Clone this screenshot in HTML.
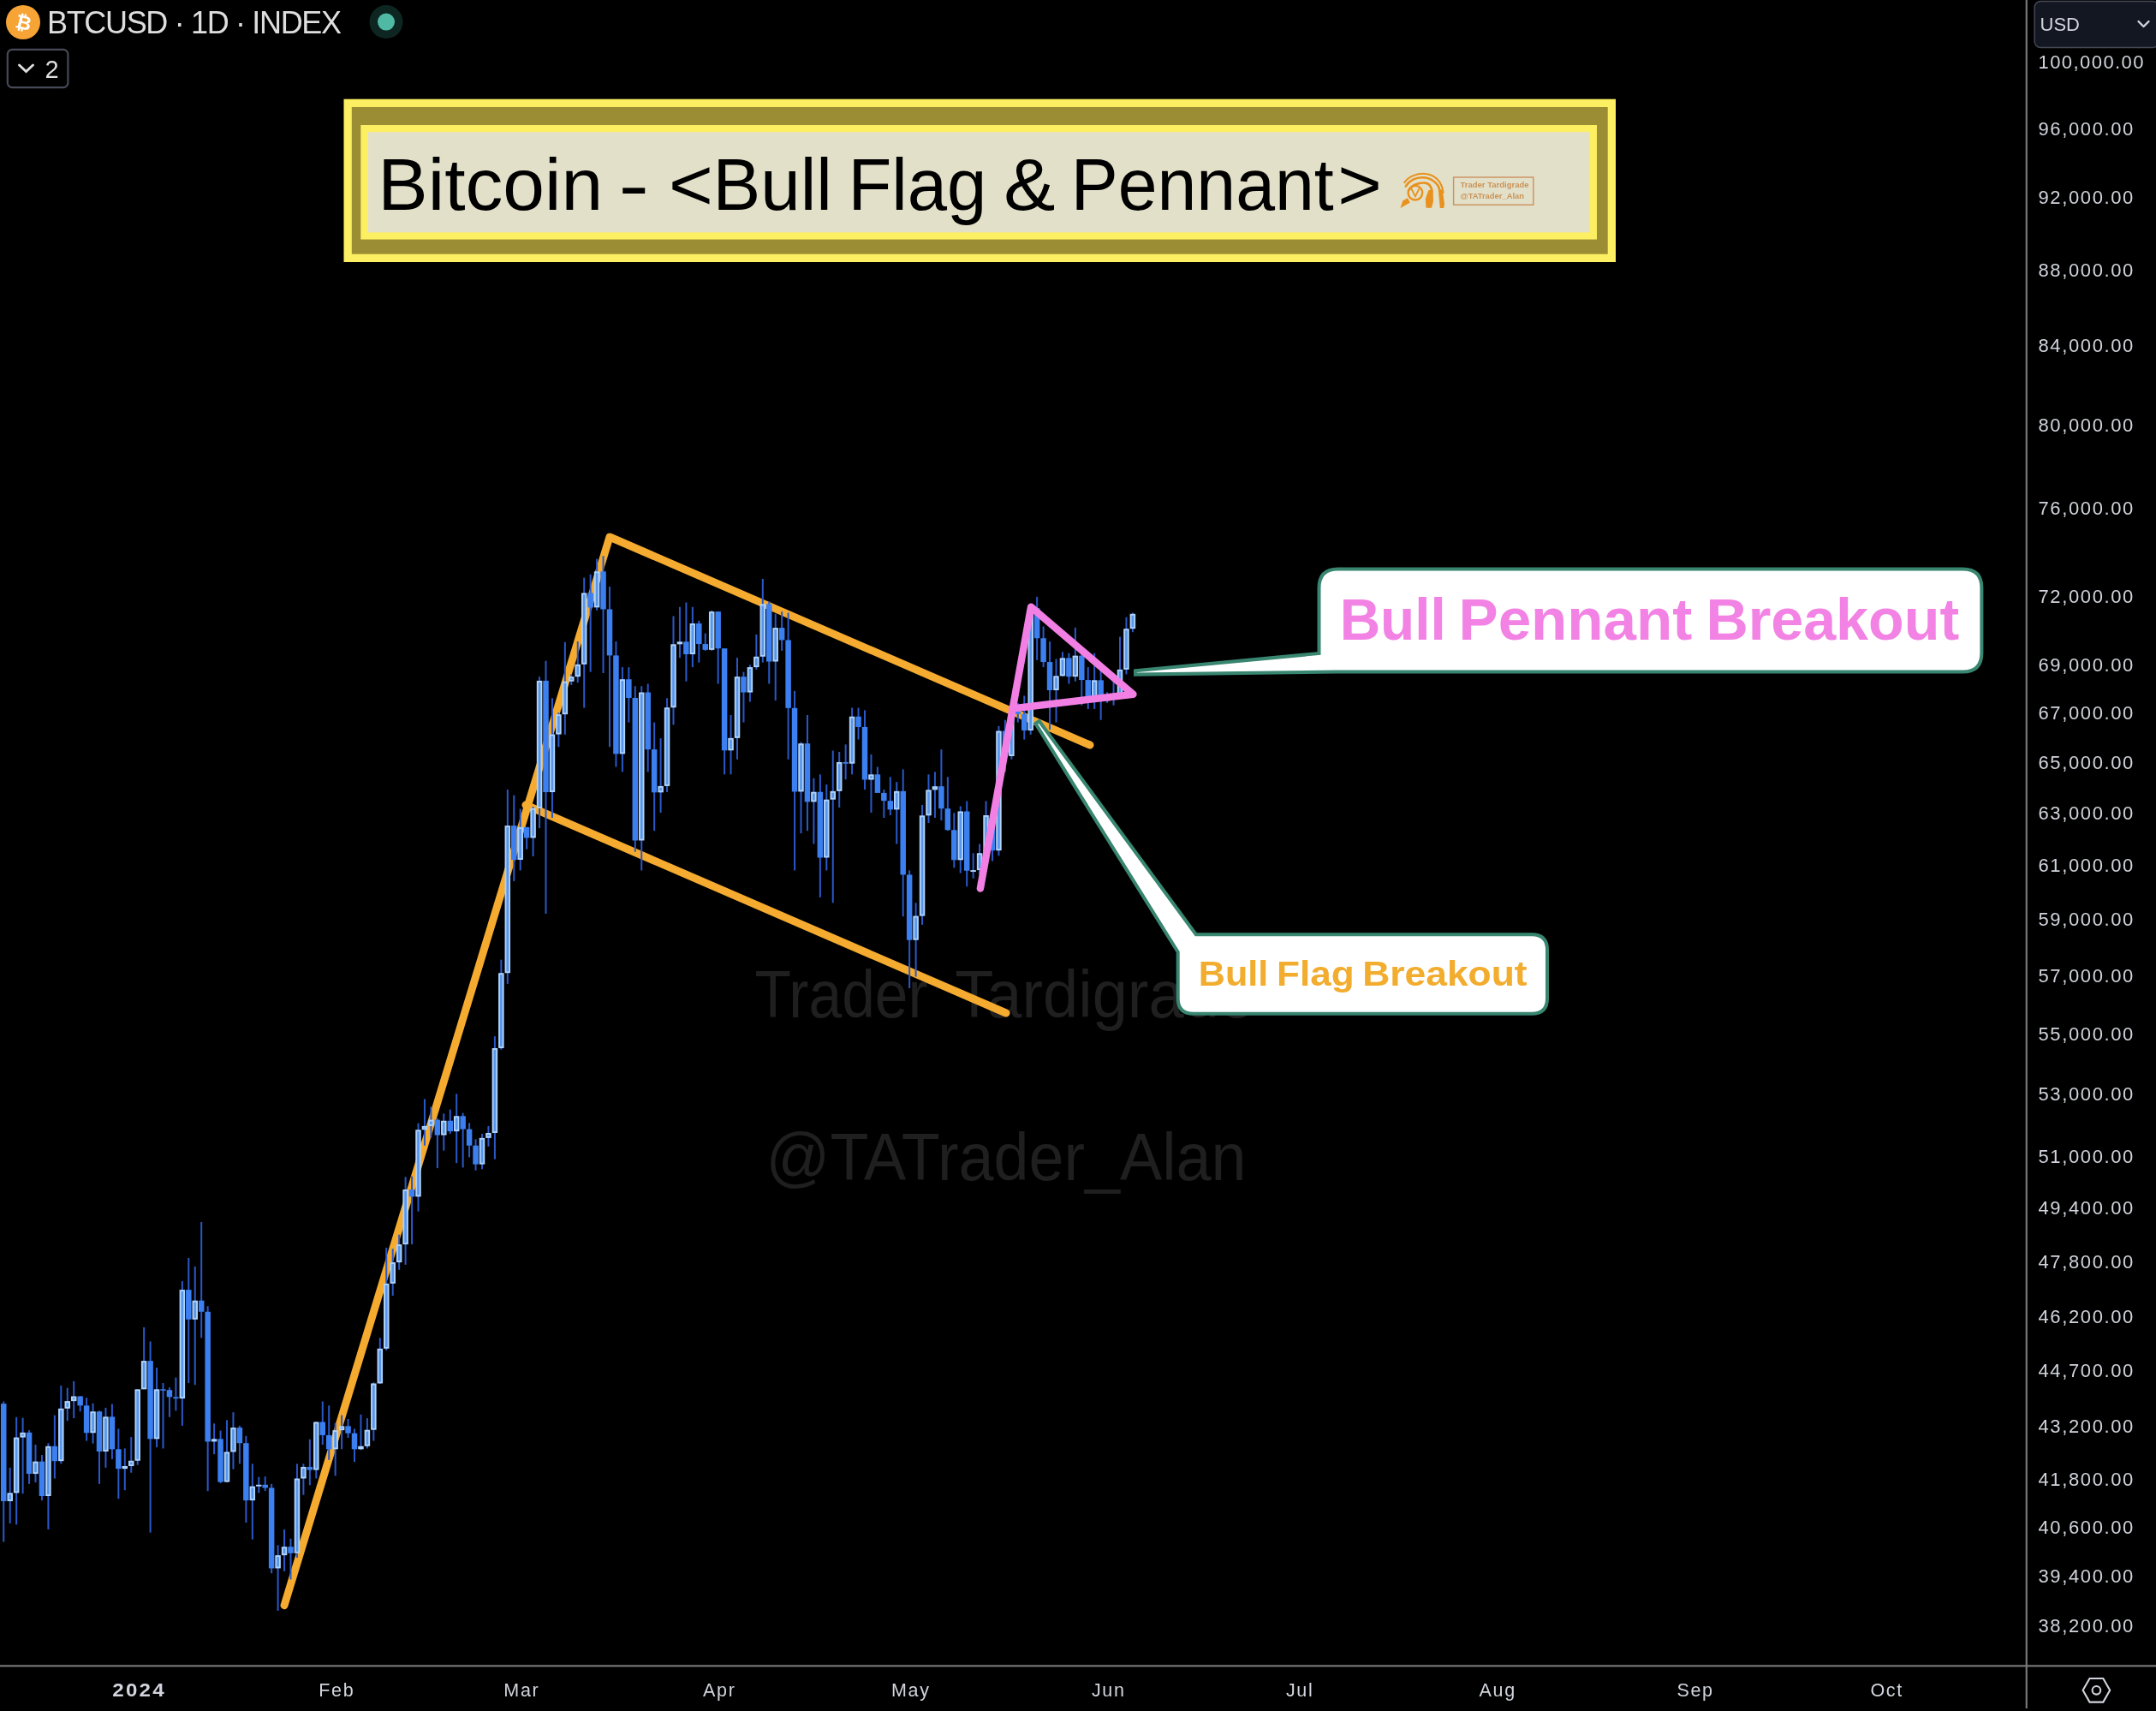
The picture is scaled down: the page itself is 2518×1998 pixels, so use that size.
<!DOCTYPE html>
<html><head><meta charset="utf-8"><title>BTCUSD Bull Flag &amp; Pennant</title>
<style>
html,body{margin:0;padding:0;background:#000;width:2518px;height:1998px;overflow:hidden}
svg{display:block;position:absolute;left:0;top:0;will-change:transform}
text{font-family:"Liberation Sans",Arial,sans-serif}
.wk rect{fill:#2a58c8}
.bd rect{fill:#3b7ff0}
.bd rect.u{fill:#5896ec;stroke:#b0d3fb;stroke-width:1.9}
.pl text{font-size:22px;fill:#d1d4dc}
.tl text{font-size:21.5px;fill:#d1d4dc;text-anchor:middle}
.tl text.b{font-weight:bold}
</style></head>
<body>
<svg width="2518" height="1998" viewBox="0 0 2518 1998">
<rect width="2518" height="1998" fill="#000"/>
<!-- watermark -->
<g fill="#1f1f1f" font-size="77.5"><text x="881.51" y="1188.2" textLength="202.04" lengthAdjust="spacingAndGlyphs">Trader</text><text x="1115.29" y="1188.2" textLength="349.72" lengthAdjust="spacingAndGlyphs">Tardigrade</text><text x="894.59" y="1378.4" textLength="560.98" lengthAdjust="spacingAndGlyphs">@TATrader_Alan</text></g>
<!-- drawings: orange flag -->
<g fill="none" stroke="#f4ab2f" stroke-width="9" stroke-linecap="round" stroke-linejoin="round">
<polyline points="332,1874.7 712,627 1273,870"/>
<line x1="614" y1="940" x2="1175" y2="1183"/>
</g>
<!-- candles -->
<g class="wk">
<rect x="3.25" y="1636.55" width="2" height="163.96"/>
<rect x="10.70" y="1713.83" width="2" height="65.11"/>
<rect x="18.15" y="1654.82" width="2" height="125.52"/>
<rect x="25.60" y="1655.69" width="2" height="88.58"/>
<rect x="33.05" y="1670.17" width="2" height="62.69"/>
<rect x="40.50" y="1686.98" width="2" height="44.06"/>
<rect x="47.95" y="1699.02" width="2" height="53.06"/>
<rect x="55.40" y="1685.20" width="2" height="100.74"/>
<rect x="62.85" y="1652.63" width="2" height="73.86"/>
<rect x="70.30" y="1618.04" width="2" height="91.29"/>
<rect x="77.75" y="1620.61" width="2" height="38.58"/>
<rect x="85.20" y="1612.90" width="2" height="43.23"/>
<rect x="92.65" y="1630.07" width="2" height="18.20"/>
<rect x="100.10" y="1632.23" width="2" height="50.31"/>
<rect x="107.55" y="1638.72" width="2" height="46.93"/>
<rect x="115.00" y="1647.40" width="2" height="85.46"/>
<rect x="122.45" y="1643.92" width="2" height="69.91"/>
<rect x="129.90" y="1639.59" width="2" height="64.36"/>
<rect x="137.35" y="1668.41" width="2" height="81.83"/>
<rect x="144.80" y="1691.43" width="2" height="48.73"/>
<rect x="152.25" y="1678.11" width="2" height="41.59"/>
<rect x="159.70" y="1622.33" width="2" height="88.35"/>
<rect x="167.15" y="1549.86" width="2" height="72.47"/>
<rect x="174.60" y="1566.46" width="2" height="223.23"/>
<rect x="182.05" y="1597.16" width="2" height="92.94"/>
<rect x="189.50" y="1615.04" width="2" height="76.39"/>
<rect x="196.95" y="1620.18" width="2" height="34.63"/>
<rect x="204.40" y="1608.63" width="2" height="38.77"/>
<rect x="211.85" y="1496.06" width="2" height="168.83"/>
<rect x="219.30" y="1468.93" width="2" height="146.11"/>
<rect x="226.75" y="1478.86" width="2" height="138.32"/>
<rect x="234.20" y="1427.01" width="2" height="135.29"/>
<rect x="241.65" y="1525.21" width="2" height="215.86"/>
<rect x="249.10" y="1662.26" width="2" height="35.87"/>
<rect x="256.55" y="1670.61" width="2" height="61.34"/>
<rect x="264.00" y="1658.31" width="2" height="72.72"/>
<rect x="271.45" y="1649.14" width="2" height="66.49"/>
<rect x="278.90" y="1664.89" width="2" height="44.44"/>
<rect x="286.35" y="1676.79" width="2" height="101.22"/>
<rect x="293.80" y="1709.33" width="2" height="88.36"/>
<rect x="301.25" y="1724.68" width="2" height="18.68"/>
<rect x="308.70" y="1724.23" width="2" height="16.84"/>
<rect x="316.15" y="1732.86" width="2" height="104.34"/>
<rect x="323.60" y="1804.30" width="2" height="76.69"/>
<rect x="331.05" y="1785.95" width="2" height="48.85"/>
<rect x="338.50" y="1796.75" width="2" height="47.68"/>
<rect x="345.95" y="1709.33" width="2" height="109.68"/>
<rect x="353.40" y="1709.33" width="2" height="36.32"/>
<rect x="360.85" y="1680.77" width="2" height="53.45"/>
<rect x="368.30" y="1660.07" width="2" height="66.43"/>
<rect x="375.75" y="1636.55" width="2" height="50.43"/>
<rect x="383.20" y="1641.32" width="2" height="63.52"/>
<rect x="390.65" y="1661.82" width="2" height="61.50"/>
<rect x="398.10" y="1652.63" width="2" height="39.69"/>
<rect x="405.55" y="1657.00" width="2" height="22.00"/>
<rect x="413.00" y="1668.41" width="2" height="38.68"/>
<rect x="420.45" y="1651.76" width="2" height="41.45"/>
<rect x="427.90" y="1656.13" width="2" height="35.30"/>
<rect x="435.35" y="1614.18" width="2" height="68.36"/>
<rect x="442.80" y="1562.30" width="2" height="53.60"/>
<rect x="450.25" y="1457.08" width="2" height="119.84"/>
<rect x="457.70" y="1458.26" width="2" height="54.75"/>
<rect x="465.15" y="1441.79" width="2" height="41.05"/>
<rect x="472.60" y="1374.27" width="2" height="102.59"/>
<rect x="480.05" y="1373.52" width="2" height="79.63"/>
<rect x="487.50" y="1311.63" width="2" height="103.02"/>
<rect x="494.95" y="1283.40" width="2" height="54.30"/>
<rect x="502.40" y="1292.40" width="2" height="36.07"/>
<rect x="509.85" y="1305.80" width="2" height="58.32"/>
<rect x="517.30" y="1300.36" width="2" height="43.26"/>
<rect x="524.75" y="1295.65" width="2" height="28.41"/>
<rect x="532.20" y="1277.30" width="2" height="80.83"/>
<rect x="539.65" y="1299.64" width="2" height="63.74"/>
<rect x="547.10" y="1311.27" width="2" height="40.16"/>
<rect x="554.55" y="1330.32" width="2" height="36.43"/>
<rect x="562.00" y="1324.07" width="2" height="41.18"/>
<rect x="569.45" y="1314.91" width="2" height="23.89"/>
<rect x="576.90" y="1210.11" width="2" height="143.55"/>
<rect x="584.35" y="1120.66" width="2" height="105.07"/>
<rect x="591.80" y="922.06" width="2" height="226.84"/>
<rect x="599.25" y="928.60" width="2" height="100.34"/>
<rect x="606.70" y="944.46" width="2" height="71.96"/>
<rect x="614.15" y="965.61" width="2" height="26.00"/>
<rect x="621.60" y="942.06" width="2" height="57.89"/>
<rect x="629.05" y="790.16" width="2" height="176.98"/>
<rect x="636.50" y="771.69" width="2" height="295.34"/>
<rect x="643.95" y="815.25" width="2" height="139.76"/>
<rect x="651.40" y="832.17" width="2" height="40.07"/>
<rect x="658.85" y="749.87" width="2" height="107.96"/>
<rect x="666.30" y="787.39" width="2" height="12.49"/>
<rect x="673.75" y="749.05" width="2" height="48.04"/>
<rect x="681.20" y="674.63" width="2" height="151.88"/>
<rect x="688.65" y="670.73" width="2" height="113.90"/>
<rect x="696.10" y="652.61" width="2" height="60.20"/>
<rect x="703.55" y="649.26" width="2" height="136.75"/>
<rect x="711.00" y="685.09" width="2" height="187.15"/>
<rect x="718.45" y="749.05" width="2" height="146.47"/>
<rect x="725.90" y="779.11" width="2" height="122.28"/>
<rect x="733.35" y="779.11" width="2" height="64.42"/>
<rect x="740.80" y="801.27" width="2" height="193.43"/>
<rect x="748.25" y="801.27" width="2" height="215.15"/>
<rect x="755.70" y="798.49" width="2" height="102.90"/>
<rect x="763.15" y="843.53" width="2" height="126.65"/>
<rect x="770.60" y="862.14" width="2" height="86.83"/>
<rect x="778.05" y="815.25" width="2" height="109.78"/>
<rect x="785.50" y="719.47" width="2" height="126.92"/>
<rect x="792.95" y="708.82" width="2" height="59.30"/>
<rect x="800.40" y="703.52" width="2" height="92.18"/>
<rect x="807.85" y="708.82" width="2" height="70.29"/>
<rect x="815.30" y="724.81" width="2" height="48.80"/>
<rect x="822.75" y="739.59" width="2" height="20.34"/>
<rect x="830.20" y="712.81" width="2" height="47.12"/>
<rect x="837.65" y="714.14" width="2" height="84.35"/>
<rect x="845.10" y="757.20" width="2" height="147.12"/>
<rect x="852.55" y="835.00" width="2" height="69.32"/>
<rect x="860.00" y="768.12" width="2" height="118.63"/>
<rect x="867.45" y="784.62" width="2" height="58.91"/>
<rect x="874.90" y="776.36" width="2" height="43.11"/>
<rect x="882.35" y="740.94" width="2" height="40.93"/>
<rect x="889.80" y="675.94" width="2" height="97.67"/>
<rect x="897.25" y="702.20" width="2" height="96.29"/>
<rect x="904.70" y="716.80" width="2" height="101.26"/>
<rect x="912.15" y="714.14" width="2" height="45.79"/>
<rect x="919.60" y="715.47" width="2" height="171.29"/>
<rect x="927.05" y="806.85" width="2" height="209.57"/>
<rect x="934.50" y="866.46" width="2" height="106.76"/>
<rect x="941.95" y="835.00" width="2" height="135.17"/>
<rect x="949.40" y="908.74" width="2" height="76.72"/>
<rect x="956.85" y="904.33" width="2" height="143.56"/>
<rect x="964.30" y="916.13" width="2" height="100.29"/>
<rect x="971.75" y="876.58" width="2" height="177.66"/>
<rect x="979.20" y="878.03" width="2" height="64.93"/>
<rect x="986.65" y="869.35" width="2" height="40.87"/>
<rect x="994.10" y="826.51" width="2" height="77.81"/>
<rect x="1001.55" y="826.51" width="2" height="37.07"/>
<rect x="1009.00" y="829.34" width="2" height="92.72"/>
<rect x="1016.45" y="880.94" width="2" height="68.04"/>
<rect x="1023.90" y="895.52" width="2" height="29.51"/>
<rect x="1031.35" y="922.06" width="2" height="32.95"/>
<rect x="1038.80" y="907.27" width="2" height="44.72"/>
<rect x="1046.25" y="913.17" width="2" height="72.29"/>
<rect x="1053.70" y="898.45" width="2" height="171.78"/>
<rect x="1061.15" y="1016.42" width="2" height="137.50"/>
<rect x="1068.60" y="1054.25" width="2" height="86.30"/>
<rect x="1076.05" y="939.96" width="2" height="139.93"/>
<rect x="1083.50" y="904.33" width="2" height="56.74"/>
<rect x="1090.95" y="901.39" width="2" height="53.62"/>
<rect x="1098.40" y="875.13" width="2" height="82.90"/>
<rect x="1105.85" y="907.27" width="2" height="62.91"/>
<rect x="1113.30" y="949.28" width="2" height="64.03"/>
<rect x="1120.75" y="941.46" width="2" height="78.08"/>
<rect x="1128.20" y="935.47" width="2" height="99.77"/>
<rect x="1135.65" y="996.24" width="2" height="29.56"/>
<rect x="1143.10" y="985.47" width="2" height="35.64"/>
<rect x="1150.55" y="935.47" width="2" height="82.51"/>
<rect x="1158.00" y="945.97" width="2" height="59.56"/>
<rect x="1165.45" y="847.81" width="2" height="151.52"/>
<rect x="1172.90" y="840.69" width="2" height="60.70"/>
<rect x="1180.35" y="820.88" width="2" height="65.88"/>
<rect x="1187.80" y="820.88" width="2" height="22.66"/>
<rect x="1195.25" y="812.45" width="2" height="51.13"/>
<rect x="1202.70" y="708.82" width="2" height="149.01"/>
<rect x="1210.15" y="696.92" width="2" height="73.95"/>
<rect x="1217.60" y="731.52" width="2" height="47.59"/>
<rect x="1225.05" y="749.05" width="2" height="103.04"/>
<rect x="1232.50" y="769.49" width="2" height="74.04"/>
<rect x="1239.95" y="761.29" width="2" height="28.87"/>
<rect x="1247.40" y="762.66" width="2" height="35.83"/>
<rect x="1254.85" y="732.86" width="2" height="62.85"/>
<rect x="1262.30" y="761.29" width="2" height="62.40"/>
<rect x="1269.75" y="779.11" width="2" height="48.82"/>
<rect x="1277.20" y="762.66" width="2" height="65.27"/>
<rect x="1284.65" y="776.36" width="2" height="64.33"/>
<rect x="1292.10" y="808.25" width="2" height="12.63"/>
<rect x="1299.55" y="792.93" width="2" height="30.76"/>
<rect x="1307.00" y="743.64" width="2" height="70.21"/>
<rect x="1314.45" y="720.80" width="2" height="66.59"/>
<rect x="1321.90" y="715.47" width="2" height="22.77"/>
</g>
<g class="bd">
<rect x="1.00" y="1639.15" width="6.50" height="113.84"/>
<rect class="u" x="9.40" y="1744.31" width="4.60" height="7.74"/>
<rect class="u" x="16.85" y="1679.51" width="4.60" height="62.90"/>
<rect class="u" x="24.30" y="1673.76" width="4.60" height="3.84"/>
<rect x="30.80" y="1672.81" width="6.50" height="48.24"/>
<rect class="u" x="39.20" y="1707.59" width="4.60" height="12.52"/>
<rect x="45.70" y="1706.64" width="6.50" height="40.39"/>
<rect class="u" x="54.10" y="1689.71" width="4.60" height="56.36"/>
<rect x="60.60" y="1688.76" width="6.50" height="17.43"/>
<rect class="u" x="69.00" y="1645.74" width="4.60" height="59.49"/>
<rect class="u" x="76.45" y="1637.07" width="4.60" height="6.77"/>
<rect class="u" x="83.90" y="1631.46" width="4.60" height="3.72"/>
<rect x="90.40" y="1630.51" width="6.50" height="10.81"/>
<rect x="97.85" y="1641.32" width="6.50" height="31.94"/>
<rect class="u" x="106.25" y="1649.22" width="4.60" height="23.08"/>
<rect x="112.75" y="1648.27" width="6.50" height="46.72"/>
<rect class="u" x="121.15" y="1655.33" width="4.60" height="38.72"/>
<rect x="127.65" y="1654.38" width="6.50" height="37.94"/>
<rect x="135.10" y="1692.32" width="6.50" height="22.86"/>
<rect class="u" x="143.50" y="1712.98" width="4.60" height="1.25"/>
<rect class="u" x="150.95" y="1706.69" width="4.60" height="4.39"/>
<rect class="u" x="158.40" y="1623.28" width="4.60" height="81.51"/>
<rect class="u" x="165.85" y="1590.07" width="4.60" height="31.31"/>
<rect x="172.35" y="1589.12" width="6.50" height="91.21"/>
<rect class="u" x="180.75" y="1623.28" width="4.60" height="56.10"/>
<rect x="187.25" y="1622.33" width="6.50" height="1.50"/>
<rect x="194.70" y="1623.19" width="6.50" height="8.18"/>
<rect x="202.15" y="1631.37" width="6.50" height="1.73"/>
<rect class="u" x="210.55" y="1507.08" width="4.60" height="125.06"/>
<rect x="217.05" y="1506.13" width="6.50" height="34.65"/>
<rect class="u" x="225.45" y="1519.65" width="4.60" height="20.19"/>
<rect x="231.95" y="1518.70" width="6.50" height="13.06"/>
<rect x="239.40" y="1531.75" width="6.50" height="151.68"/>
<rect class="u" x="247.80" y="1681.28" width="4.60" height="1.20"/>
<rect x="254.30" y="1680.33" width="6.50" height="50.26"/>
<rect class="u" x="262.70" y="1696.39" width="4.60" height="33.24"/>
<rect class="u" x="270.15" y="1668.04" width="4.60" height="26.45"/>
<rect x="276.65" y="1667.09" width="6.50" height="18.12"/>
<rect x="284.10" y="1685.20" width="6.50" height="66.87"/>
<rect class="u" x="292.50" y="1736.54" width="4.60" height="14.58"/>
<rect class="u" x="299.95" y="1734.72" width="4.60" height="0.01"/>
<rect x="306.45" y="1733.77" width="6.50" height="3.65"/>
<rect x="313.90" y="1737.42" width="6.50" height="94.02"/>
<rect class="u" x="322.30" y="1817.10" width="4.60" height="13.38"/>
<rect class="u" x="329.75" y="1807.14" width="4.60" height="8.06"/>
<rect x="336.25" y="1806.19" width="6.50" height="7.59"/>
<rect class="u" x="344.65" y="1727.45" width="4.60" height="85.38"/>
<rect class="u" x="352.10" y="1713.88" width="4.60" height="11.66"/>
<rect x="358.60" y="1712.93" width="6.50" height="3.61"/>
<rect class="u" x="367.00" y="1661.45" width="4.60" height="54.14"/>
<rect x="373.50" y="1660.50" width="6.50" height="15.40"/>
<rect x="380.95" y="1675.90" width="6.50" height="16.42"/>
<rect class="u" x="389.35" y="1671.12" width="4.60" height="20.25"/>
<rect class="u" x="396.80" y="1666.28" width="4.60" height="2.94"/>
<rect x="403.30" y="1665.33" width="6.50" height="8.37"/>
<rect x="410.75" y="1673.70" width="6.50" height="18.62"/>
<rect class="u" x="419.15" y="1689.71" width="4.60" height="1.66"/>
<rect class="u" x="426.60" y="1670.68" width="4.60" height="17.13"/>
<rect class="u" x="434.05" y="1616.42" width="4.60" height="52.36"/>
<rect class="u" x="441.50" y="1575.77" width="4.60" height="38.74"/>
<rect class="u" x="448.95" y="1499.82" width="4.60" height="74.05"/>
<rect class="u" x="456.40" y="1475.03" width="4.60" height="22.89"/>
<rect class="u" x="463.85" y="1454.10" width="4.60" height="19.04"/>
<rect class="u" x="471.30" y="1389.98" width="4.60" height="62.22"/>
<rect x="477.80" y="1389.03" width="6.50" height="8.37"/>
<rect class="u" x="486.20" y="1320.25" width="4.60" height="76.20"/>
<rect class="u" x="493.65" y="1315.86" width="4.60" height="2.49"/>
<rect class="u" x="501.10" y="1308.57" width="4.60" height="5.39"/>
<rect x="507.60" y="1307.62" width="6.50" height="17.91"/>
<rect class="u" x="516.00" y="1309.67" width="4.60" height="14.92"/>
<rect x="522.50" y="1308.72" width="6.50" height="12.42"/>
<rect class="u" x="530.90" y="1304.21" width="4.60" height="15.97"/>
<rect x="537.40" y="1303.26" width="6.50" height="15.31"/>
<rect x="544.85" y="1318.57" width="6.50" height="19.13"/>
<rect x="552.30" y="1337.70" width="6.50" height="21.94"/>
<rect class="u" x="560.70" y="1329.80" width="4.60" height="28.89"/>
<rect class="u" x="568.15" y="1323.92" width="4.60" height="3.98"/>
<rect class="u" x="575.60" y="1224.94" width="4.60" height="97.08"/>
<rect class="u" x="583.05" y="1137.17" width="4.60" height="85.87"/>
<rect class="u" x="590.50" y="965.05" width="4.60" height="170.23"/>
<rect x="597.00" y="964.10" width="6.50" height="39.88"/>
<rect class="u" x="605.40" y="966.87" width="4.60" height="36.16"/>
<rect x="611.90" y="965.92" width="6.50" height="12.50"/>
<rect class="u" x="620.30" y="944.81" width="4.60" height="32.66"/>
<rect class="u" x="627.75" y="795.82" width="4.60" height="147.09"/>
<rect x="634.25" y="794.87" width="6.50" height="130.16"/>
<rect class="u" x="642.65" y="858.49" width="4.60" height="65.59"/>
<rect class="u" x="650.10" y="835.10" width="4.60" height="21.49"/>
<rect class="u" x="657.55" y="796.66" width="4.60" height="36.55"/>
<rect class="u" x="665.00" y="791.11" width="4.60" height="3.65"/>
<rect class="u" x="672.45" y="776.76" width="4.60" height="12.45"/>
<rect class="u" x="679.90" y="693.39" width="4.60" height="81.47"/>
<rect x="686.40" y="692.44" width="6.50" height="16.91"/>
<rect class="u" x="694.80" y="668.30" width="4.60" height="40.11"/>
<rect x="701.30" y="667.35" width="6.50" height="44.13"/>
<rect x="708.75" y="711.48" width="6.50" height="53.91"/>
<rect x="716.20" y="765.39" width="6.50" height="114.97"/>
<rect class="u" x="724.60" y="794.16" width="4.60" height="85.25"/>
<rect x="731.10" y="793.21" width="6.50" height="21.77"/>
<rect x="738.55" y="814.97" width="6.50" height="166.51"/>
<rect class="u" x="746.95" y="809.48" width="4.60" height="171.05"/>
<rect x="753.45" y="808.53" width="6.50" height="66.61"/>
<rect x="760.90" y="875.13" width="6.50" height="50.20"/>
<rect class="u" x="769.30" y="918.86" width="4.60" height="5.52"/>
<rect class="u" x="776.75" y="827.18" width="4.60" height="89.78"/>
<rect class="u" x="784.20" y="753.26" width="4.60" height="72.02"/>
<rect class="u" x="791.65" y="750.28" width="4.60" height="1.08"/>
<rect x="798.15" y="749.33" width="6.50" height="14.70"/>
<rect class="u" x="806.55" y="728.98" width="4.60" height="34.09"/>
<rect x="813.05" y="728.03" width="6.50" height="24.01"/>
<rect x="820.50" y="752.04" width="6.50" height="6.80"/>
<rect class="u" x="828.90" y="715.09" width="4.60" height="42.80"/>
<rect x="835.40" y="714.14" width="6.50" height="43.07"/>
<rect x="842.85" y="757.20" width="6.50" height="119.09"/>
<rect class="u" x="851.25" y="862.80" width="4.60" height="12.54"/>
<rect class="u" x="858.70" y="791.11" width="4.60" height="69.80"/>
<rect x="865.20" y="790.16" width="6.50" height="18.37"/>
<rect class="u" x="873.60" y="780.06" width="4.60" height="27.52"/>
<rect class="u" x="881.05" y="767.71" width="4.60" height="10.45"/>
<rect class="u" x="888.50" y="706.33" width="4.60" height="59.48"/>
<rect x="895.00" y="705.38" width="6.50" height="67.13"/>
<rect class="u" x="903.40" y="734.08" width="4.60" height="37.48"/>
<rect x="909.90" y="733.13" width="6.50" height="14.30"/>
<rect x="917.35" y="747.43" width="6.50" height="79.37"/>
<rect x="924.80" y="826.80" width="6.50" height="97.64"/>
<rect class="u" x="933.20" y="869.14" width="4.60" height="54.34"/>
<rect x="939.70" y="868.19" width="6.50" height="68.17"/>
<rect class="u" x="948.10" y="925.68" width="4.60" height="9.73"/>
<rect x="954.60" y="924.73" width="6.50" height="76.77"/>
<rect class="u" x="963.00" y="934.63" width="4.60" height="65.92"/>
<rect class="u" x="970.45" y="924.79" width="4.60" height="7.93"/>
<rect class="u" x="977.90" y="890.92" width="4.60" height="31.98"/>
<rect x="984.40" y="889.97" width="6.50" height="1.75"/>
<rect class="u" x="992.80" y="837.66" width="4.60" height="53.11"/>
<rect x="999.30" y="836.71" width="6.50" height="12.25"/>
<rect x="1006.75" y="848.95" width="6.50" height="61.56"/>
<rect class="u" x="1015.15" y="905.28" width="4.60" height="4.29"/>
<rect x="1021.65" y="904.33" width="6.50" height="21.60"/>
<rect x="1029.10" y="925.92" width="6.50" height="9.25"/>
<rect x="1036.55" y="935.17" width="6.50" height="10.19"/>
<rect class="u" x="1044.95" y="924.79" width="4.60" height="19.62"/>
<rect x="1051.45" y="923.84" width="6.50" height="97.58"/>
<rect x="1058.90" y="1021.42" width="6.50" height="76.30"/>
<rect class="u" x="1067.30" y="1070.54" width="4.60" height="26.23"/>
<rect class="u" x="1074.75" y="953.24" width="4.60" height="115.40"/>
<rect class="u" x="1082.20" y="923.31" width="4.60" height="28.03"/>
<rect class="u" x="1089.65" y="919.15" width="4.60" height="2.25"/>
<rect x="1096.15" y="918.20" width="6.50" height="25.96"/>
<rect x="1103.60" y="944.16" width="6.50" height="25.10"/>
<rect x="1111.05" y="969.26" width="6.50" height="35.03"/>
<rect class="u" x="1119.45" y="948.42" width="4.60" height="54.92"/>
<rect x="1125.95" y="947.47" width="6.50" height="69.26"/>
<rect class="u" x="1134.35" y="1017.06" width="4.60" height="0.01"/>
<rect class="u" x="1141.80" y="997.19" width="4.60" height="17.97"/>
<rect class="u" x="1149.25" y="952.94" width="4.60" height="42.35"/>
<rect x="1155.75" y="951.99" width="6.50" height="41.17"/>
<rect class="u" x="1164.15" y="854.48" width="4.60" height="137.73"/>
<rect x="1170.65" y="853.53" width="6.50" height="29.44"/>
<rect class="u" x="1179.05" y="831.70" width="4.60" height="50.32"/>
<rect x="1185.55" y="830.75" width="6.50" height="3.12"/>
<rect x="1193.00" y="833.87" width="6.50" height="19.09"/>
<rect class="u" x="1201.40" y="711.10" width="4.60" height="140.91"/>
<rect x="1207.90" y="710.15" width="6.50" height="35.11"/>
<rect x="1215.35" y="745.26" width="6.50" height="27.80"/>
<rect x="1222.80" y="773.06" width="6.50" height="32.95"/>
<rect class="u" x="1231.20" y="790.28" width="4.60" height="14.79"/>
<rect class="u" x="1238.65" y="769.35" width="4.60" height="19.03"/>
<rect x="1245.15" y="768.40" width="6.50" height="21.76"/>
<rect class="u" x="1253.55" y="766.61" width="4.60" height="22.59"/>
<rect x="1260.05" y="765.66" width="6.50" height="28.38"/>
<rect x="1267.50" y="794.04" width="6.50" height="20.93"/>
<rect class="u" x="1275.90" y="795.27" width="4.60" height="18.76"/>
<rect x="1282.40" y="794.32" width="6.50" height="24.03"/>
<rect class="u" x="1290.80" y="813.12" width="4.60" height="4.28"/>
<rect class="u" x="1298.25" y="812.00" width="4.60" height="0.01"/>
<rect class="u" x="1305.70" y="782.81" width="4.60" height="27.28"/>
<rect class="u" x="1313.15" y="735.15" width="4.60" height="45.76"/>
<rect class="u" x="1320.60" y="717.75" width="4.60" height="15.50"/>
</g>
<!-- pink pennant -->
<g fill="none" stroke="#f27fe3" stroke-width="8.5" stroke-linecap="round" stroke-linejoin="round">
<polyline points="1144.9,1037.5 1204.1,708.7 1323.4,810.7 1182,827.5"/>
</g>
<!-- callouts -->
<g stroke="#388570" stroke-width="4" fill="#fff" stroke-linejoin="miter">
<path d="M1326,783.3 L1540.5,763 L1540.5,686.5 Q1540.5,664.5 1562.5,664.5 L2292.4,664.5 Q2314.4,664.5 2314.4,686.5 L2314.4,762.5 Q2314.4,784.5 2292.4,784.5 L1560,784.5 L1326,787.6 Z"/>
<path d="M1213.6,842 L1396.8,1091.3 L1789,1091.3 Q1807,1091.3 1807,1109.3 L1807,1165.8 Q1807,1183.8 1789,1183.8 L1393.7,1183.8 Q1375.7,1183.8 1375.7,1165.8 L1375.7,1111.8 L1209.4,844.9 Z"/>
</g>
<g font-size="68" font-weight="bold" fill="#f283e4"><text x="1564.67" y="746.8" textLength="124.12" lengthAdjust="spacingAndGlyphs">Bull</text><text x="1703.51" y="746.8" textLength="272.86" lengthAdjust="spacingAndGlyphs">Pennant</text><text x="1992.38" y="746.8" textLength="295.77" lengthAdjust="spacingAndGlyphs">Breakout</text></g>
<g font-size="41.5" font-weight="bold" fill="#f2ac2e"><text x="1399.78" y="1151.4" textLength="81.55" lengthAdjust="spacingAndGlyphs">Bull</text><text x="1491.01" y="1151.4" textLength="90.64" lengthAdjust="spacingAndGlyphs">Flag</text><text x="1591.19" y="1151.4" textLength="192.46" lengthAdjust="spacingAndGlyphs">Breakout</text></g>
<!-- title box -->
<rect x="406.15" y="120.35" width="1476.2" height="181" fill="#9a8d33" stroke="#fdef62" stroke-width="9.3"/>
<rect x="425.4" y="150.1" width="1435.5" height="125.4" fill="#e3e0c9" stroke="#fdef62" stroke-width="8.2"/>
<g font-size="85" fill="#000"><text x="441.39" y="244.9" textLength="262.82" lengthAdjust="spacingAndGlyphs">Bitcoin</text><text x="722.49" y="244.9" textLength="35.46" lengthAdjust="spacingAndGlyphs">-</text><text x="780.92" y="244.9" textLength="51.82" lengthAdjust="spacingAndGlyphs">&lt;</text><text x="832.62" y="244.9" textLength="139.22" lengthAdjust="spacingAndGlyphs">Bull</text><text x="990.45" y="244.9" textLength="161.9" lengthAdjust="spacingAndGlyphs">Flag</text><text x="1172.32" y="244.9" textLength="60.19" lengthAdjust="spacingAndGlyphs">&amp;</text><text x="1250.71" y="244.9" textLength="307.05" lengthAdjust="spacingAndGlyphs">Pennant</text><text x="1562.34" y="244.9" textLength="51.58" lengthAdjust="spacingAndGlyphs">&gt;</text></g>
<!-- logo -->
<g fill="none" stroke="#e8911e" stroke-linecap="round">
<path d="M1640.3,213.1 C1645,206 1655,202.5 1664,202.9 C1675,203.5 1684,211 1685.6,225" stroke-width="2"/>
<path d="M1641.8,217.6 C1646,210.5 1654,207 1661.5,207.3 C1671,207.5 1679.5,213.5 1681.5,222" stroke-width="2.6"/>
<path d="M1645.8,221.5 C1649,216 1657,213 1664.7,213.6 C1670,214.5 1672.3,219.5 1672.3,225" stroke-width="2.6"/>
<circle cx="1652.9" cy="225.2" r="8.3" stroke-width="2.4"/>
<path d="M1648.7,221 L1652.9,229.3 L1657.1,221" stroke-width="1.8"/>
</g>
<g fill="#e8911e">
<path d="M1679.8,222 L1684.6,221 L1687,238 L1686.2,243 L1681.8,243 Z"/>
<path d="M1668.5,222 L1673.6,221.5 L1674,235 L1672,242.8 L1665.5,242.8 L1664.8,232 Z"/>
<path d="M1635.5,243 L1638.3,234.5 L1643.8,231.2 L1646.8,236.5 Z"/>
</g>
<rect x="1697.6" y="207" width="93.2" height="32.2" fill="none" stroke="#c9915f" stroke-width="1.4"/>
<g fill="#c99358" font-size="9.8" font-weight="bold">
<text x="1705.5" y="219.2" textLength="80" lengthAdjust="spacingAndGlyphs">Trader Tardigrade</text>
<text x="1705.5" y="232.2" textLength="74.5" lengthAdjust="spacingAndGlyphs">@TATrader_Alan</text>
</g>
<!-- axes -->
<rect x="2366" y="0" width="152" height="1998" fill="#000"/>
<rect x="0" y="1946" width="2518" height="52" fill="#000"/>
<rect x="2365.7" y="0" width="2.1" height="1995" fill="#7b7b7b"/>
<rect x="0" y="1944.3" width="2518" height="2.1" fill="#7b7b7b"/>
<g class="pl">
<text x="2380.5" y="80.2" textLength="123.0" lengthAdjust="spacing">100,000.00</text>
<text x="2380.5" y="157.6" textLength="110.8" lengthAdjust="spacing">96,000.00</text>
<text x="2380.5" y="238.4" textLength="110.8" lengthAdjust="spacing">92,000.00</text>
<text x="2380.5" y="322.7" textLength="110.8" lengthAdjust="spacing">88,000.00</text>
<text x="2380.5" y="411.0" textLength="110.8" lengthAdjust="spacing">84,000.00</text>
<text x="2380.5" y="503.6" textLength="110.8" lengthAdjust="spacing">80,000.00</text>
<text x="2380.5" y="600.9" textLength="110.8" lengthAdjust="spacing">76,000.00</text>
<text x="2380.5" y="703.5" textLength="110.8" lengthAdjust="spacing">72,000.00</text>
<text x="2380.5" y="784.3" textLength="110.8" lengthAdjust="spacing">69,000.00</text>
<text x="2380.5" y="840.1" textLength="110.8" lengthAdjust="spacing">67,000.00</text>
<text x="2380.5" y="897.6" textLength="110.8" lengthAdjust="spacing">65,000.00</text>
<text x="2380.5" y="956.9" textLength="110.8" lengthAdjust="spacing">63,000.00</text>
<text x="2380.5" y="1018.1" textLength="110.8" lengthAdjust="spacing">61,000.00</text>
<text x="2380.5" y="1081.3" textLength="110.8" lengthAdjust="spacing">59,000.00</text>
<text x="2380.5" y="1146.8" textLength="110.8" lengthAdjust="spacing">57,000.00</text>
<text x="2380.5" y="1214.6" textLength="110.8" lengthAdjust="spacing">55,000.00</text>
<text x="2380.5" y="1284.8" textLength="110.8" lengthAdjust="spacing">53,000.00</text>
<text x="2380.5" y="1357.8" textLength="110.8" lengthAdjust="spacing">51,000.00</text>
<text x="2380.5" y="1418.3" textLength="110.8" lengthAdjust="spacing">49,400.00</text>
<text x="2380.5" y="1480.8" textLength="110.8" lengthAdjust="spacing">47,800.00</text>
<text x="2380.5" y="1545.4" textLength="110.8" lengthAdjust="spacing">46,200.00</text>
<text x="2380.5" y="1608.0" textLength="110.8" lengthAdjust="spacing">44,700.00</text>
<text x="2380.5" y="1672.8" textLength="110.8" lengthAdjust="spacing">43,200.00</text>
<text x="2380.5" y="1735.3" textLength="110.8" lengthAdjust="spacing">41,800.00</text>
<text x="2380.5" y="1790.6" textLength="110.8" lengthAdjust="spacing">40,600.00</text>
<text x="2380.5" y="1847.5" textLength="110.8" lengthAdjust="spacing">39,400.00</text>
<text x="2380.5" y="1906.2" textLength="110.8" lengthAdjust="spacing">38,200.00</text>
</g>
<g class="tl">
<text transform="translate(162.6,1980.5) scale(1.12,1)" letter-spacing="2" class="b">2024</text>
<text x="393.3" y="1980.5" letter-spacing="1.7">Feb</text>
<text x="609.4" y="1980.5" letter-spacing="1.7">Mar</text>
<text x="840.3" y="1980.5" letter-spacing="1.7">Apr</text>
<text x="1063.8" y="1980.5" letter-spacing="1.7">May</text>
<text x="1294.8" y="1980.5" letter-spacing="1.7">Jun</text>
<text x="1518.2" y="1980.5" letter-spacing="1.7">Jul</text>
<text x="1749.2" y="1980.5" letter-spacing="1.7">Aug</text>
<text x="1980.1" y="1980.5" letter-spacing="1.7">Sep</text>
<text x="2203.7" y="1980.5" letter-spacing="1.7">Oct</text>
</g>
<!-- USD box -->
<rect x="2376.2" y="1.5" width="145" height="54" rx="7" fill="#131722" stroke="#444855" stroke-width="1.5"/>
<text x="2382.5" y="35.7" font-size="22" fill="#d1d4dc">USD</text>
<path d="M2497.5,25 L2503.5,31 L2509.5,25" fill="none" stroke="#d1d4dc" stroke-width="2.4" stroke-linecap="round" stroke-linejoin="round"/>
<!-- settings hexagon -->
<g fill="none" stroke="#d1d4dc" stroke-width="2.1">
<polygon points="2432.6,1973.8 2440.5,1960 2456.3,1960 2464.2,1973.8 2456.3,1987.6 2440.5,1987.6"/>
<circle cx="2448.4" cy="1973.8" r="4.8"/>
</g>
<!-- legend -->
<circle cx="27" cy="26" r="20" fill="#f7a437"/>
<text x="27.5" y="34" font-size="22.5" font-weight="bold" fill="#fff" text-anchor="middle" transform="rotate(14 27 26)">&#8383;</text>
<text x="55" y="39" font-size="36" fill="#dedede" textLength="344" lengthAdjust="spacing">BTCUSD · 1D · INDEX</text>
<circle cx="451" cy="25.6" r="19.5" fill="#0e2622"/>
<circle cx="451" cy="25.6" r="10" fill="#4fb9a3"/>
<rect x="8.8" y="57.8" width="70.6" height="44.4" rx="5.5" fill="#000" stroke="#464a56" stroke-width="2.2"/>
<path d="M22.5,76 L30.5,83.5 L38.5,76" fill="none" stroke="#dedede" stroke-width="2.9" stroke-linecap="round" stroke-linejoin="miter"/>
<text x="52.5" y="90.5" font-size="29" fill="#dedede">2</text>
</svg>
</body></html>
